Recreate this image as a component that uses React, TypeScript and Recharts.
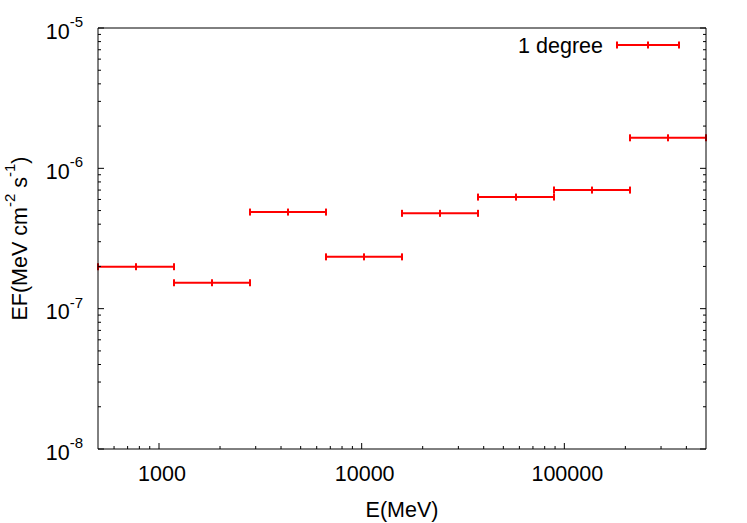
import React from "react";
import { ErrorBar, Scatter, ScatterChart, XAxis, YAxis } from "recharts";

// energy bins (MeV) and flux
const binLow = [500, 1186, 2812, 6668, 15811, 37494, 88914, 210848];
const binHigh = [1186, 2812, 6668, 15811, 37494, 88914, 210848, 500000];
const energy = [770, 1826, 4330, 10267, 24349, 57738, 136917, 324677];
const flux = [1.99e-7, 1.53e-7, 4.88e-7, 2.34e-7, 4.78e-7, 6.24e-7, 7.0e-7, 1.65e-6];

const xMajor = [1000, 10000, 100000];
const xMajorLabels = ["1000", "10000", "100000"];
const xMinor = [
  600, 700, 800, 900, 2000, 3000, 4000, 5000, 6000, 7000, 8000, 9000, 20000, 30000, 40000, 50000, 60000, 70000,
  80000, 90000, 200000, 300000, 400000,
];
const yMajor = [1e-8, 1e-7, 1e-6, 1e-5];
const yExponents = ["-8", "-7", "-6", "-5"];
const yMinor = [
  2e-8, 3e-8, 4e-8, 5e-8, 6e-8, 7e-8, 8e-8, 9e-8, 2e-7, 3e-7, 4e-7, 5e-7, 6e-7, 7e-7, 8e-7, 9e-7, 2e-6, 3e-6, 4e-6,
  5e-6, 6e-6, 7e-6, 8e-6, 9e-6,
];

const seriesName = "1 degree";

const datos = energy.map((e, i) => ({ e, ef: flux[i], xerr: [e - binLow[i], binHigh[i] - e] }));

const FONT = "'Liberation Sans', Arial, Helvetica, sans-serif";
const FS = 21.5;
const SUP = 15;
const RED = "#ff0000";

function tickLen(list: number[], v: number) {
  return list.indexOf(v) >= 0 ? 6 : 3;
}

function BottomTick(props: any) {
  const { x, y, payload } = props;
  const i = xMajor.indexOf(payload.value);
  return (
    <g>
      <line x1={x} y1={y} x2={x} y2={y - tickLen(xMajor, payload.value)} stroke="#000" />
      {i >= 0 && (
        <text x={x + 3} y={y + 32} textAnchor="middle" fontSize={FS} fontFamily={FONT} fill="#000">
          {xMajorLabels[i]}
        </text>
      )}
    </g>
  );
}

function TopTick(props: any) {
  const { x, y, payload } = props;
  return <line x1={x} y1={y} x2={x} y2={y + tickLen(xMajor, payload.value)} stroke="#000" />;
}

function LeftTick(props: any) {
  const { x, y, payload } = props;
  const i = yMajor.indexOf(payload.value);
  return (
    <g>
      <line x1={x} y1={y} x2={x + tickLen(yMajor, payload.value)} y2={y} stroke="#000" />
      {i >= 0 && (
        <text x={x - 15} y={y + 10.5} textAnchor="end" fontSize={FS} fontFamily={FONT} fill="#000">
          10
          <tspan fontSize={SUP} dy={-11.5}>
            {yExponents[i]}
          </tspan>
        </text>
      )}
    </g>
  );
}

function RightTick(props: any) {
  const { x, y, payload } = props;
  return <line x1={x} y1={y} x2={x - tickLen(yMajor, payload.value)} y2={y} stroke="#000" />;
}

function TituloY(props: any) {
  const vb = props.viewBox || { x: 0, y: 28, width: 98, height: 421 };
  const cx = vb.x + 27;
  const cy = vb.y + vb.height / 2;
  return (
    <text
      x={cx}
      y={cy}
      transform={`rotate(-90 ${cx} ${cy})`}
      textAnchor="middle"
      fontSize={FS}
      fontFamily={FONT}
      fill="#000"
    >
      EF(MeV cm
      <tspan fontSize={SUP} dy={-12}>
        -2
      </tspan>
      <tspan dy={12}> s</tspan>
      <tspan fontSize={SUP} dy={-12}>
        -1
      </tspan>
      <tspan dy={12}>)</tspan>
    </text>
  );
}

function Marca(props: any) {
  const { cx, cy } = props;
  return <line x1={cx} y1={cy - 3.5} x2={cx} y2={cy + 3.5} stroke={RED} strokeWidth={2} />;
}

function Leyenda() {
  return (
    <svg width={747} height={523} style={{ position: "absolute", left: 0, top: 0, pointerEvents: "none" }}>
      <text x={603} y={52.5} textAnchor="end" fontSize={FS} fontFamily={FONT} fill="#000">
        {seriesName}
      </text>
      <g stroke={RED} strokeWidth={2}>
        <line x1={617} y1={45} x2={679} y2={45} />
        <line x1={617} y1={41.5} x2={617} y2={48.5} />
        <line x1={679} y1={41.5} x2={679} y2={48.5} />
        <line x1={648} y1={41.5} x2={648} y2={48.5} />
      </g>
    </svg>
  );
}

export default function App() {
  const xTicks = [...xMinor, ...xMajor].sort((a, b) => a - b);
  const yTicks = [...yMinor, ...yMajor].sort((a, b) => a - b);
  const axis = { stroke: "#000", strokeWidth: 1 };

  return (
    <div style={{ position: "absolute", left: 0, top: 0, width: 747, height: 523, background: "#fff" }}>
      <ScatterChart width={747} height={523} margin={{ top: 0, right: 0, bottom: 0, left: 0 }}>
        <XAxis
          dataKey="e"
          type="number"
          scale="log"
          domain={[500, 500000]}
          allowDataOverflow
          ticks={xTicks}
          interval={0}
          height={74}
          tickSize={0}
          tickMargin={0}
          tickLine={false}
          axisLine={axis}
          tick={<BottomTick />}
          label={{ value: "E(MeV)", position: "insideBottom", offset: 6, fontSize: FS, fontFamily: FONT, fill: "#000" }}
        />
        <XAxis
          xAxisId="top"
          orientation="top"
          type="number"
          scale="log"
          domain={[500, 500000]}
          allowDataOverflow
          ticks={xTicks}
          interval={0}
          height={28}
          tickSize={0}
          tickMargin={0}
          tickLine={false}
          axisLine={axis}
          tick={<TopTick />}
        />
        <YAxis
          dataKey="ef"
          type="number"
          scale="log"
          domain={[1e-8, 1e-5]}
          allowDataOverflow
          ticks={yTicks}
          interval={0}
          width={98}
          tickSize={0}
          tickMargin={0}
          tickLine={false}
          axisLine={axis}
          tick={<LeftTick />}
          label={<TituloY />}
        />
        <YAxis
          yAxisId="right"
          orientation="right"
          type="number"
          scale="log"
          domain={[1e-8, 1e-5]}
          allowDataOverflow
          ticks={yTicks}
          interval={0}
          width={41}
          tickSize={0}
          tickMargin={0}
          tickLine={false}
          axisLine={axis}
          tick={<RightTick />}
        />
        <Scatter data={datos} name={seriesName} shape={<Marca />} isAnimationActive={false}>
          <ErrorBar dataKey="xerr" direction="x" width={3.5} stroke={RED} strokeWidth={2} isAnimationActive={false} />
        </Scatter>
      </ScatterChart>
      <Leyenda />
    </div>
  );
}
